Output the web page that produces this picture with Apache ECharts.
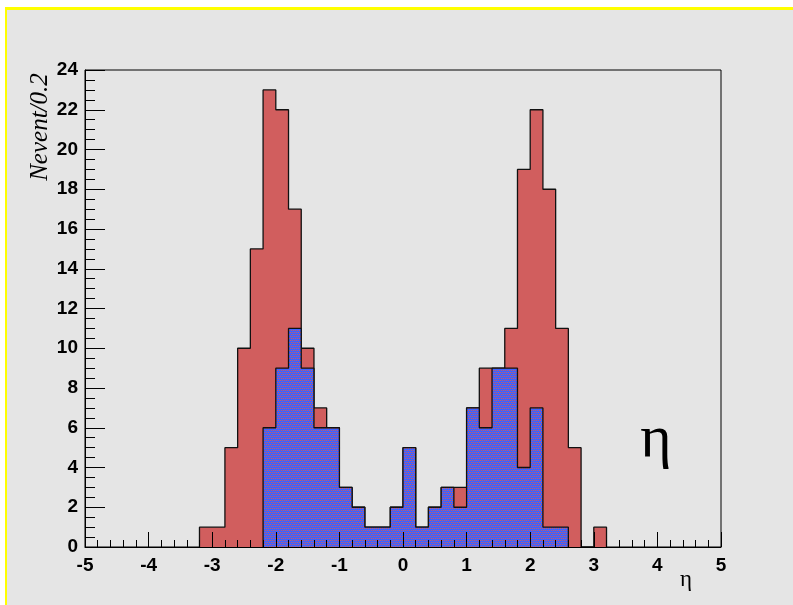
<!DOCTYPE html>
<html>
<head>
<meta charset="utf-8">
<script src="https://cdn.jsdelivr.net/npm/echarts@6/dist/echarts.min.js"></script>
<style>
  html, body { margin: 0; padding: 0; background: #fff; }
  #pad { position: absolute; left: 5px; top: 7px; width: 788px; height: 598px; background: #e5e5e5;
         border-top: 3px solid #ffff00; border-left: 2px solid #ffff00; box-sizing: border-box; }
  #main { position: absolute; left: 0; top: 0; width: 793px; height: 605px; }
</style>
</head>
<body>
<div id="pad"></div>
<div id="main"></div>
<script>
// eta distribution, bins of 0.2
var binWidth = 0.2
var redStart = -3.2
var redCounts = [1, 1, 5, 10, 15, 23, 22, 17, 10, 7, 6, 3, 2, 1, 1, 2, 5, 1, 2, 3, 3, 7, 9, 9, 11, 19, 22, 18, 11, 5, 0, 1]
var blueStart = -2.2
var blueCounts = [6, 9, 11, 9, 6, 6, 3, 2, 1, 1, 2, 5, 1, 2, 3, 2, 7, 6, 9, 9, 4, 7, 1, 1]
var xRange = [-5, 5]
var yRange = [0, 24]
var yTitle = 'Nevent/0.2'
var xTitle = 'η'

// step outline: start at 0, one point per bin edge, drop to 0 at the end
function stepData (start, counts) {
  var pts = [[start, 0]]
  counts.forEach(function (c, i) {
    pts.push([+(start + i * binWidth).toFixed(2), c])
  })
  pts.push([+(start + counts.length * binWidth).toFixed(2), 0])
  return pts
}

// blue/red dither like ROOT fill pattern
function makePattern () {
  var c = document.createElement('canvas')
  c.width = 4
  c.height = 4
  var ctx = c.getContext('2d')
  ctx.fillStyle = '#3c62ff'
  ctx.fillRect(0, 0, 4, 4)
  ctx.fillStyle = '#d45a5a'
  ctx.fillRect(0, 0, 1, 1)
  ctx.fillRect(2, 0, 1, 1)
  ctx.fillRect(1, 2, 1, 1)
  ctx.fillRect(3, 2, 1, 1)
  return c
}

var labelFont = {
  color: '#000',
  fontSize: 19,
  fontWeight: 'bold',
  fontFamily: "'Liberation Sans Narrow', 'Liberation Sans', Arial, sans-serif"
}

var chart = echarts.init(document.getElementById('main'))
chart.setOption({
  animation: false,
  backgroundColor: 'transparent',
  grid: {
    left: 85, right: 72, top: 70, bottom: 58,
    show: true, borderColor: '#000', borderWidth: 1, backgroundColor: 'transparent'
  },
  xAxis: {
    type: 'value',
    min: xRange[0],
    max: xRange[1],
    interval: 1,
    z: 10,
    axisLine: { onZero: false, lineStyle: { color: '#000', width: 1 } },
    axisTick: { inside: true, length: 15, lineStyle: { color: '#000' } },
    minorTick: { show: true, splitNumber: 5, length: 7, lineStyle: { color: '#000' } },
    splitLine: { show: false },
    axisLabel: Object.assign({ margin: 9, showMinLabel: true, showMaxLabel: true }, labelFont)
  },
  yAxis: {
    type: 'value',
    min: yRange[0],
    max: yRange[1],
    interval: 2,
    z: 10,
    axisLine: { show: true, onZero: false, lineStyle: { color: '#000', width: 1 } },
    axisTick: { show: true, inside: true, length: 20, lineStyle: { color: '#000' } },
    minorTick: { show: true, splitNumber: 4, length: 10, lineStyle: { color: '#000' } },
    splitLine: { show: false },
    axisLabel: Object.assign({ margin: 7, showMinLabel: true, showMaxLabel: true }, labelFont)
  },
  graphic: [
    {
      type: 'text',
      x: 40, y: 127,
      rotation: Math.PI / 2,
      style: {
        text: yTitle,
        font: 'italic 25px "Liberation Serif", "Times New Roman", serif',
        fill: '#000',
        textAlign: 'center',
        textVerticalAlign: 'middle'
      }
    },
    {
      type: 'text',
      x: 686, y: 580,
      style: {
        text: xTitle,
        font: '23px "Liberation Serif", "Times New Roman", serif',
        fill: '#000',
        textAlign: 'center',
        textVerticalAlign: 'middle'
      }
    },
    {
      type: 'text',
      x: 656, y: 440,
      style: {
        text: xTitle,
        font: '60px "Liberation Serif", "Times New Roman", serif',
        fill: '#000',
        textAlign: 'center',
        textVerticalAlign: 'middle'
      }
    }
  ],
  series: [
    {
      name: 'all',
      type: 'line',
      step: 'end',
      showSymbol: false,
      data: stepData(redStart, redCounts),
      lineStyle: { color: '#111', width: 1.3 },
      areaStyle: { color: '#d15e5e', opacity: 1 },
      z: 2
    },
    {
      name: 'selected',
      type: 'line',
      step: 'end',
      showSymbol: false,
      data: stepData(blueStart, blueCounts),
      lineStyle: { color: '#111', width: 1.3 },
      areaStyle: { color: { image: makePattern(), repeat: 'repeat' }, opacity: 1 },
      z: 3
    }
  ]
})
</script>
</body>
</html>
